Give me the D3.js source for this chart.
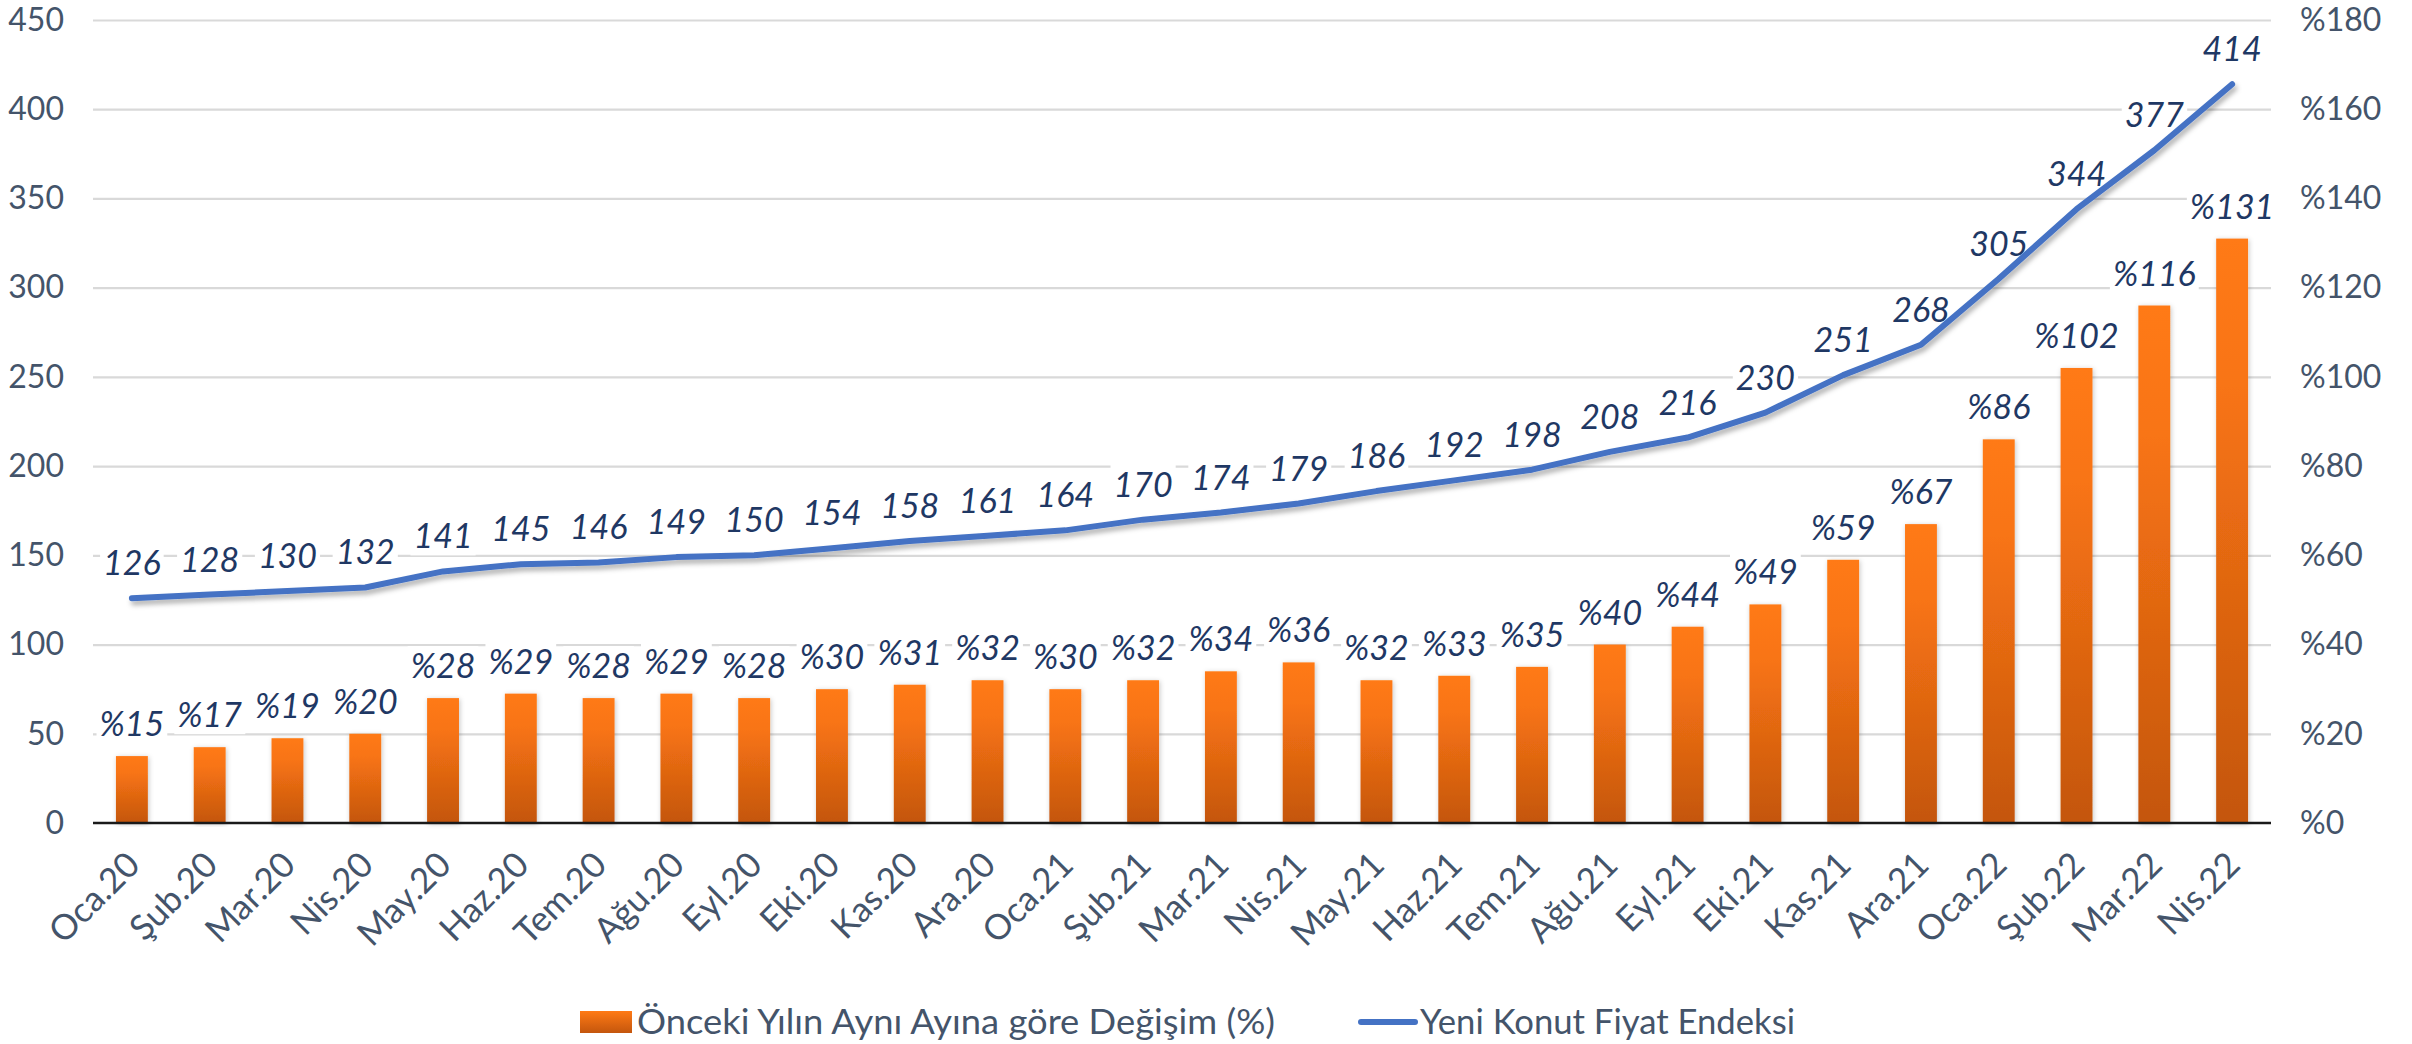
<!DOCTYPE html>
<html>
<head>
<meta charset="utf-8">
<script src="https://cdn.jsdelivr.net/npm/d3@7"></script>
<style>
  html, body { margin: 0; padding: 0; background: #ffffff; }
  svg { display: block; }
</style>
</head>
<body>
<svg id="chart" width="2412" height="1044"></svg>
<script>
const categories = ["Oca.20","Şub.20","Mar.20","Nis.20","May.20","Haz.20","Tem.20","Ağu.20","Eyl.20","Eki.20","Kas.20","Ara.20","Oca.21","Şub.21","Mar.21","Nis.21","May.21","Haz.21","Tem.21","Ağu.21","Eyl.21","Eki.21","Kas.21","Ara.21","Oca.22","Şub.22","Mar.22","Nis.22"];
const indexValues = [126,128,130,132,141,145,146,149,150,154,158,161,164,170,174,179,186,192,198,208,216,230,251,268,305,344,377,414];
const changeValues = [15,17,19,20,28,29,28,29,28,30,31,32,30,32,34,36,32,33,35,40,44,49,59,67,86,102,116,131];
const leftTicks = [0,50,100,150,200,250,300,350,400,450];
const rightTicks = [0,20,40,60,80,100,120,140,160,180];
const barSeriesName = "Önceki Yılın Aynı Ayına göre Değişim (%)";
const lineSeriesName = "Yeni Konut Fiyat Endeksi";

const FONT = "Lato, 'Open Sans', sans-serif";
const svg = d3.select("#chart");
const L = 93, R = 2271, T = 20, B = 823;

const x = d3.scaleBand().domain(categories).range([L, R]).paddingInner(0.59).paddingOuter(0.295);
const yL = d3.scaleLinear().domain([0, 450]).range([B, T]);
const yR = d3.scaleLinear().domain([0, 180]).range([B, T]);

const defs = svg.append("defs");
const grad = defs.append("linearGradient").attr("id", "barGrad")
  .attr("x1", 0).attr("y1", 0).attr("x2", 0).attr("y2", 1);
grad.append("stop").attr("offset", "0%").attr("stop-color", "#FF7A15");
grad.append("stop").attr("offset", "25%").attr("stop-color", "#F87414");
grad.append("stop").attr("offset", "100%").attr("stop-color", "#C4560D");
const lg = defs.append("linearGradient").attr("id", "legGrad")
  .attr("x1", 0).attr("y1", 0).attr("x2", 0).attr("y2", 1);
lg.append("stop").attr("offset", "0%").attr("stop-color", "#FF7A15");
lg.append("stop").attr("offset", "100%").attr("stop-color", "#C4560D");

const sh = defs.append("filter").attr("id", "lineShadow")
  .attr("x", "-5%").attr("y", "-20%").attr("width", "110%").attr("height", "140%");
sh.append("feDropShadow").attr("dx", 2).attr("dy", 4).attr("stdDeviation", 2.5)
  .attr("flood-color", "#000").attr("flood-opacity", 0.3);
const bsh = defs.append("filter").attr("id", "barShadow")
  .attr("x", "-30%").attr("y", "-5%").attr("width", "160%").attr("height", "110%");
bsh.append("feDropShadow").attr("dx", 1).attr("dy", 1).attr("stdDeviation", 2.5)
  .attr("flood-color", "#000").attr("flood-opacity", 0.22);

// gridlines
const grid = svg.append("g").attr("transform", `translate(${L},0)`)
  .call(d3.axisLeft(yL).tickValues(leftTicks.filter(d => d > 0)).tickSize(-(R - L)).tickFormat(""));
grid.select(".domain").remove();
grid.selectAll("line").attr("stroke", "#D9D9D9").attr("stroke-width", 2.2);

// left axis labels
const ax = svg.append("g").attr("transform", `translate(64,0)`)
  .call(d3.axisLeft(yL).tickValues(leftTicks).tickSize(0).tickPadding(0));
ax.select(".domain").remove();
ax.selectAll("text").attr("font-family", FONT).attr("font-size", 32).attr("fill", "#44546A");

// right axis labels
const axR = svg.append("g").attr("transform", `translate(2300,0)`)
  .call(d3.axisRight(yR).tickValues(rightTicks).tickSize(0).tickPadding(0).tickFormat(d => "%" + d));
axR.select(".domain").remove();
axR.selectAll("text").attr("font-family", FONT).attr("font-size", 32).attr("fill", "#44546A");

// labels (with white background boxes)
function addLabels(data, xf, yf, fmt) {
  const g = svg.append("g");
  data.forEach((v, i) => {
    const lg2 = g.append("g");
    const bg = lg2.append("rect").attr("fill", "#fff");
    const t = lg2.append("text")
      .attr("x", xf(i)).attr("y", yf(v))
      .attr("text-anchor", "middle")
      .attr("font-family", FONT).attr("font-style", "italic")
      .attr("font-size", 34).attr("fill", "#1F3864")
      .text(fmt(v));
    const bb = t.node().getBBox();
    bg.attr("x", bb.x - 3).attr("y", bb.y + 2).attr("width", bb.width + 6).attr("height", bb.height - 2);
  });
}
addLabels(changeValues, i => x(categories[i]) + x.bandwidth() / 2, v => yR(v) - 20, v => "%" + v);
addLabels(indexValues, i => x(categories[i]) + x.bandwidth() / 2, v => yL(v) - 23, v => String(v));

// bars
svg.append("g").selectAll("rect").data(changeValues).join("rect")
  .attr("x", (d, i) => x(categories[i]))
  .attr("width", x.bandwidth())
  .attr("y", d => yR(d))
  .attr("height", d => B - yR(d))
  .attr("fill", "url(#barGrad)")
  .attr("filter", "url(#barShadow)");

// baseline
svg.append("line").attr("x1", L).attr("x2", R).attr("y1", B).attr("y2", B)
  .attr("stroke", "#1a1a1a").attr("stroke-width", 2.5);

// line
const line = d3.line()
  .x((d, i) => x(categories[i]) + x.bandwidth() / 2)
  .y(d => yL(d));
svg.append("path").datum(indexValues)
  .attr("d", line)
  .attr("fill", "none")
  .attr("stroke", "#4472C4")
  .attr("stroke-width", 6)
  .attr("stroke-linejoin", "round")
  .attr("stroke-linecap", "round")
  .attr("filter", "url(#lineShadow)");

// x axis labels
const xa = svg.append("g").attr("transform", `translate(0,${B})`)
  .call(d3.axisBottom(x).tickSize(0).tickPadding(0));
xa.select(".domain").remove();
xa.selectAll("text")
  .attr("font-family", FONT).attr("font-size", 35).attr("fill", "#44546A")
  .attr("text-anchor", "end")
  .attr("dy", 0).attr("y", 0).attr("x", 0)
  .attr("transform", "translate(10,44) rotate(-45)");

// legend
const leg = svg.append("g");
leg.append("rect").attr("x", 580).attr("y", 1011).attr("width", 52).attr("height", 22).attr("fill", "url(#legGrad)");
leg.append("text").attr("x", 637).attr("y", 1034).attr("font-family", FONT).attr("font-size", 35)
  .attr("textLength", 638).attr("lengthAdjust", "spacingAndGlyphs")
  .attr("fill", "#44546A").text(barSeriesName);
leg.append("line").attr("x1", 1361).attr("x2", 1415).attr("y1", 1022).attr("y2", 1022)
  .attr("stroke", "#4472C4").attr("stroke-width", 6).attr("stroke-linecap", "round");
leg.append("text").attr("x", 1420).attr("y", 1034).attr("font-family", FONT).attr("font-size", 35)
  .attr("textLength", 375).attr("lengthAdjust", "spacingAndGlyphs")
  .attr("fill", "#44546A").text(lineSeriesName);
</script>
</body>
</html>
